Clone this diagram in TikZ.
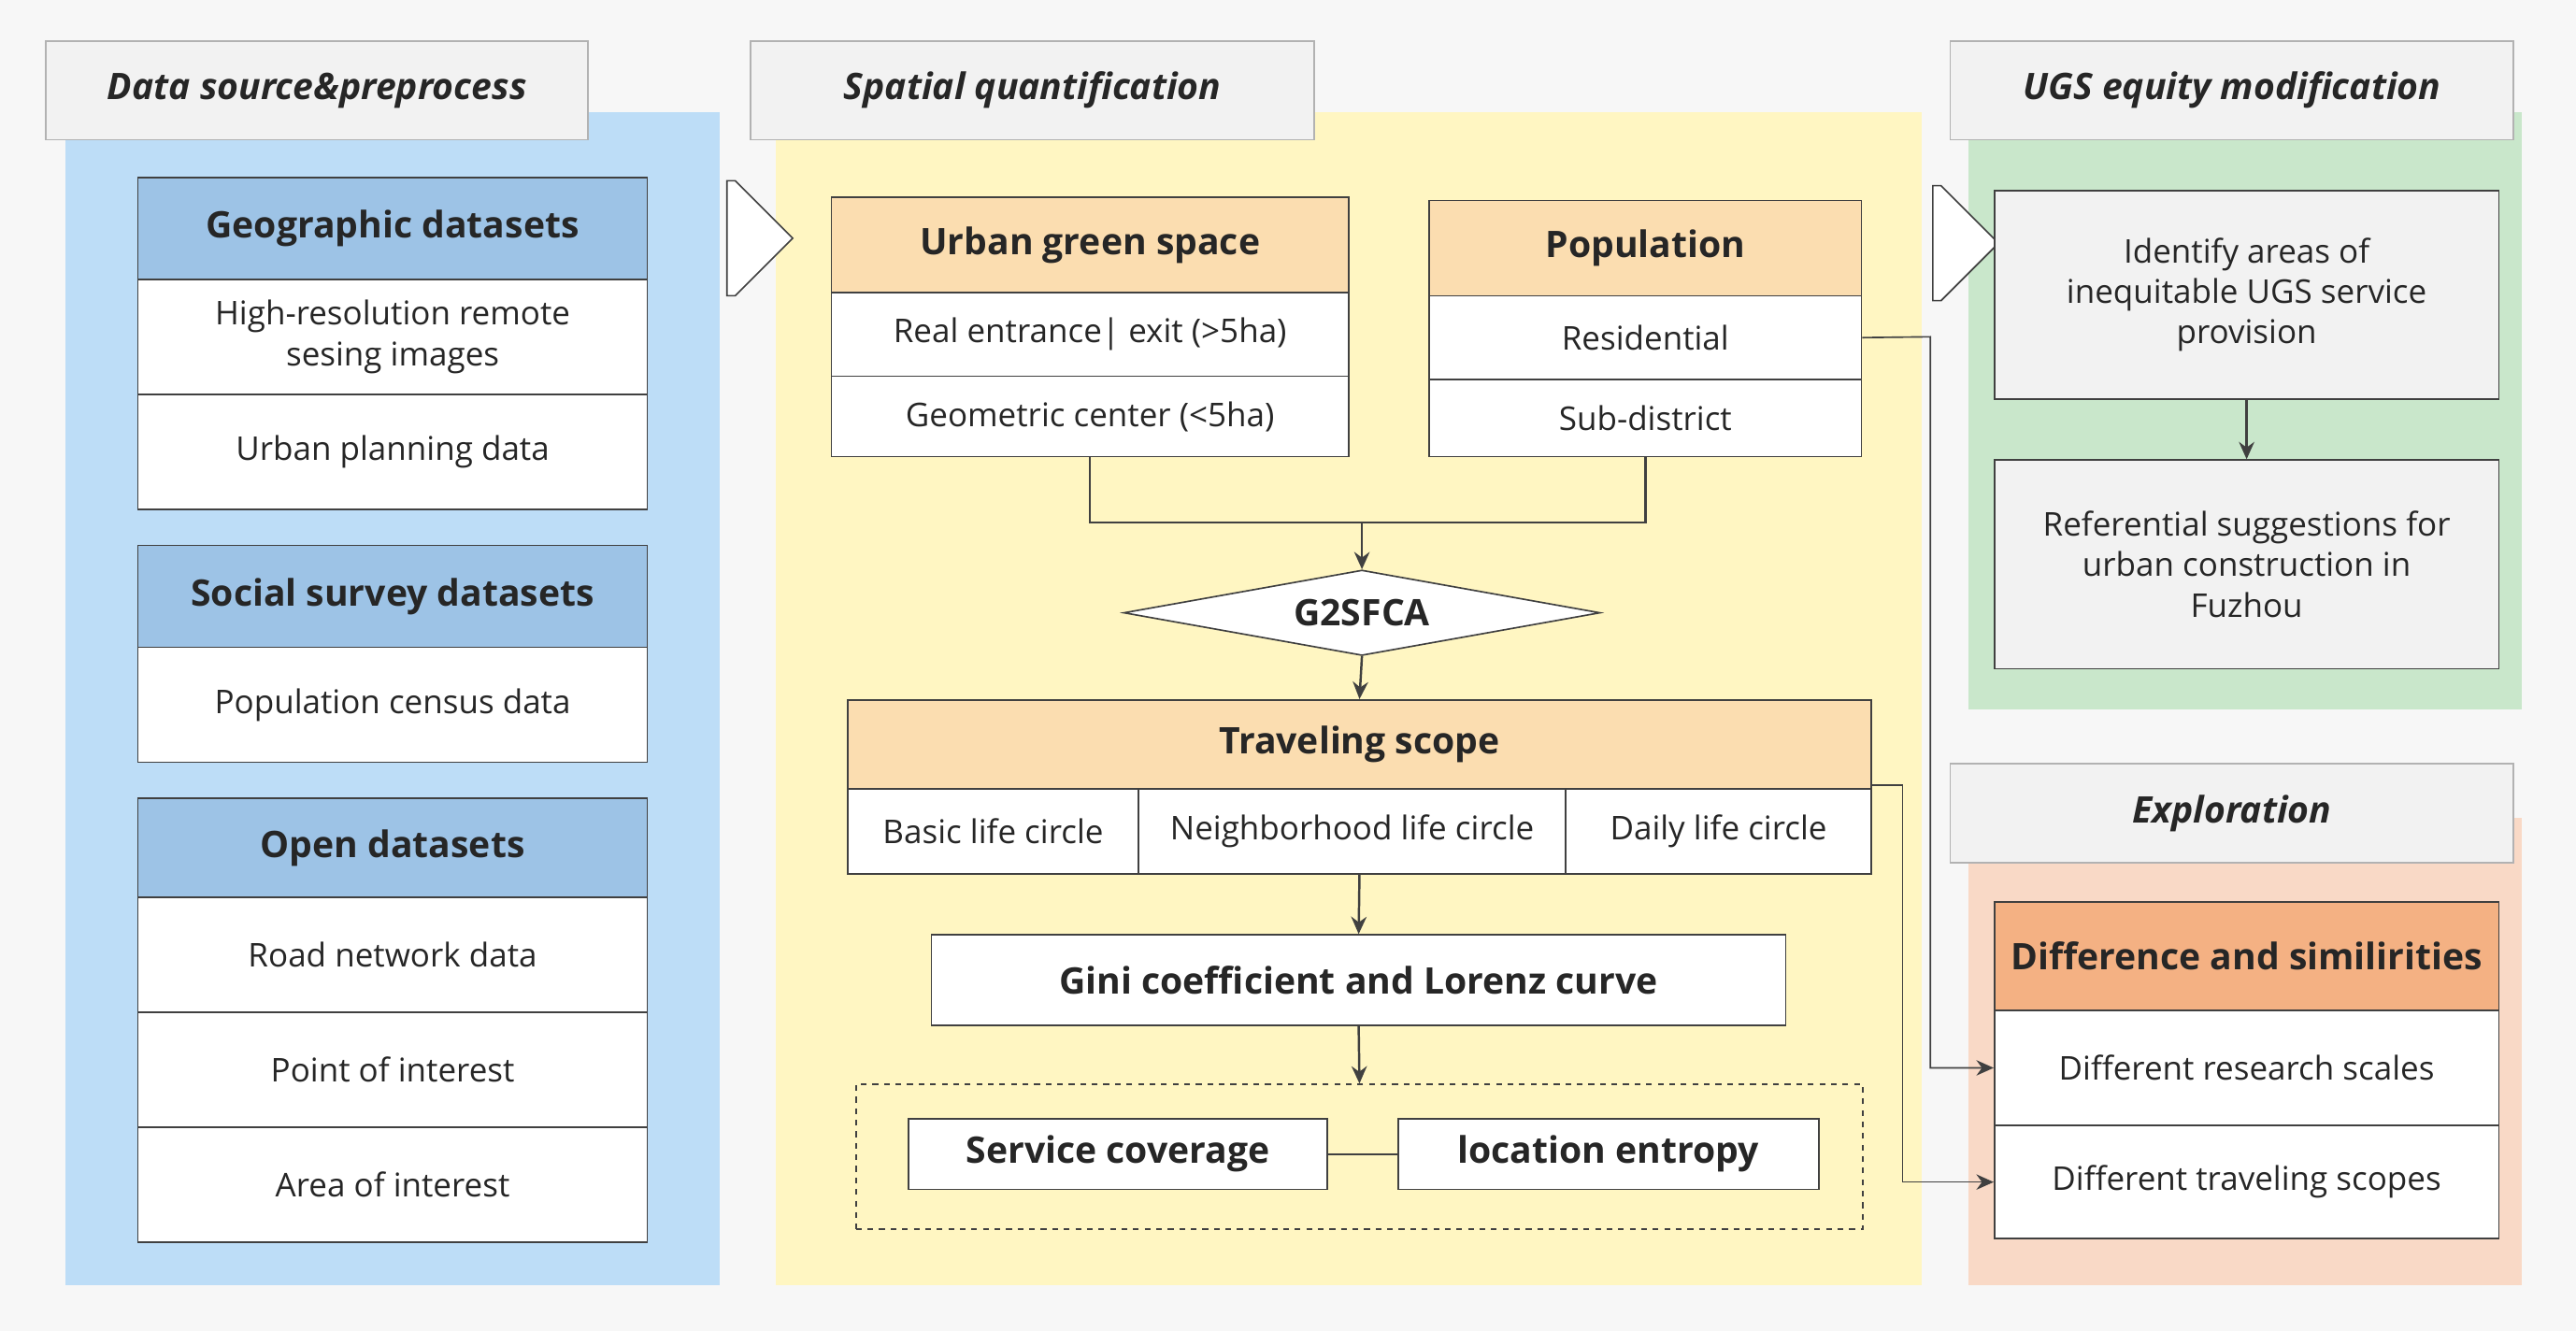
\documentclass[tikz,border=0pt]{standalone}
\usepackage{fontspec}
\setmainfont{Open Sans}
\usetikzlibrary{fit,shapes.geometric,shapes.arrows,arrows.meta}
\definecolor{bluep}{HTML}{BDDDF7}
\definecolor{blueh}{HTML}{9DC3E6}
\definecolor{yellp}{HTML}{FFF6C2}
\definecolor{orh}{HTML}{FBDDB0}
\definecolor{greenp}{HTML}{C9E7CB}
\definecolor{orp}{HTML}{F9D9C6}
\definecolor{orh2}{HTML}{F4B183}
\definecolor{hdr}{HTML}{F2F2F2}
\definecolor{ln}{HTML}{404040}
\begin{document}
\begin{tikzpicture}[x=0.03cm,y=-0.03cm,
  every node/.style={inner sep=0pt, align=center, font=\fontsize{17}{21}\selectfont, text=black!85},
  box/.style={draw=ln, line width=0.8pt, fill=white},
  hb/.style={box, font=\fontsize{19}{23}\selectfont\bfseries},
  panel/.style={draw=none},
  phdr/.style={draw=gray!60, line width=0.8pt, fill=hdr, font=\fontsize{19}{23}\selectfont\bfseries\itshape},
  con/.style={draw=ln, line width=1.2pt},
  arr/.style={con, -{Stealth[length=9pt,width=8pt]}},
  harrow/.style={single arrow, draw=ln, line width=0.8pt, fill=white, minimum height=40*0.03cm, minimum width=70*0.03cm, single arrow head extend=0pt, single arrow tip angle=90, shape border rotate=0}
]
\useasboundingbox (0,0) rectangle (1568,810);
\fill[gray!6] (0,0) rectangle (1568,810);
% panels
\node[panel, fill=bluep, fit={(40,68)(438,782)}] (pb) {};
\node[panel, fill=yellp, fit={(472,68)(1170,782)}] (py) {};
\node[panel, fill=greenp, fit={(1198,68)(1535,432)}] (pg) {};
\node[panel, fill=orp, fit={(1198,498)(1535,782)}] (po) {};
\node[phdr, fit={(28,25)(358,85)}] (h1) {};
\node at (h1.center) {\fontsize{19}{23}\selectfont\bfseries\itshape Data source\&preprocess};
\node[phdr, fit={(457,25)(800,85)}] (h2) {};
\node at (h2.center) {\fontsize{19}{23}\selectfont\bfseries\itshape Spatial quantification};
\node[phdr, fit={(1187,25)(1530,85)}] (h3) {};
\node at (h3.center) {\fontsize{19}{23}\selectfont\bfseries\itshape UGS equity modification};
\node[phdr, fit={(1187,465)(1530,525)}] (h4) {};
\node at (h4.center) {\fontsize{19}{23}\selectfont\bfseries\itshape Exploration};
% data source
\node[hb, fill=blueh, fit={(84,108)(394,170)}] (geo) {};
\node at (geo.center) {\fontsize{19}{23}\selectfont\bfseries Geographic datasets};
\node[box, fit={(84,170)(394,240)}] (g1) {};
\node at (g1.center) {High-resolution remote\\sesing images};
\node[box, fit={(84,240)(394,310)}] (g2) {};
\node at (g2.center) {Urban planning data};
\node[hb, fill=blueh, fit={(84,332)(394,394)}] (soc) {};
\node at (soc.center) {\fontsize{19}{23}\selectfont\bfseries Social survey datasets};
\node[box, fit={(84,394)(394,464)}] (s1) {};
\node at (s1.center) {Population census data};
\node[hb, fill=blueh, fit={(84,486)(394,546)}] (opn) {};
\node at (opn.center) {\fontsize{19}{23}\selectfont\bfseries Open datasets};
\node[box, fit={(84,546)(394,616)}] (o1) {};
\node at (o1.center) {Road network data};
\node[box, fit={(84,616)(394,686)}] (o2) {};
\node at (o2.center) {Point of interest};
\node[box, fit={(84,686)(394,756)}] (o3) {};
\node at (o3.center) {Area of interest};
\node[harrow] (ha1) at (445,145) {};
\node[harrow] (ha2) at (1179,148) {};
% spatial
\node[box, fill=orh, fit={(506,120)(821,178)}] (ugs) {};
\node at (ugs.center) {\fontsize{19}{23}\selectfont\bfseries Urban green space};
\node[box, fit={(506,178)(821,229)}] (u1) {};
\node at (u1.center) {Real entrance| exit (>5ha)};
\node[box, fit={(506,229)(821,278)}] (u2) {};
\node at (u2.center) {Geometric center (<5ha)};
\node[box, fill=orh, fit={(870,122)(1133,180)}] (pop) {};
\node at (pop.center) {\fontsize{19}{23}\selectfont\bfseries Population};
\node[box, fit={(870,180)(1133,231)}] (p1) {};
\node at (p1.center) {Residential};
\node[box, fit={(870,231)(1133,278)}] (p2) {};
\node at (p2.center) {Sub-district};
\coordinate (j) at (829,318);
\node[diamond, aspect=5.6, draw=ln, line width=0.8pt, fill=white, minimum width=290*0.03cm, minimum height=52*0.03cm, font=\fontsize{19}{23}\selectfont\bfseries] (g2s) at (829,373) {G2SFCA};
\draw[con] (u2.south) |- (j) -| (p2.south);
\draw[arr] (j) -- (g2s.north);
\node[box, fill=orh, fit={(516,426)(1139,480)}] (ts) {};
\node at (ts.center) {\fontsize{19}{23}\selectfont\bfseries Traveling scope};
\draw[arr] (g2s.south) -- (ts.north);
\node[box, fit={(516,480)(693,532)}] (t1) {};
\node at (t1.center) {Basic life circle};
\node[box, fit={(693,480)(953,532)}] (t2) {};
\node at (t2.center) {Neighborhood life circle};
\node[box, fit={(953,480)(1139,532)}] (t3) {};
\node at (t3.center) {Daily life circle};
\node[box, fit={(567,569)(1087,624)}] (gini) {};
\node at (gini.center) {\fontsize{19}{23}\selectfont\bfseries Gini coefficient and Lorenz curve};
\draw[arr] (t2.south -| ts.south) -- (gini.north);
\node[draw=ln, line width=0.8pt, dashed, fit={(521,660)(1134,748)}] (dash) {};
\draw[arr] (gini.south) -- (dash.north);
\node[box, fit={(553,681)(808,724)}] (sc) {};
\node at (sc.center) {\fontsize{19}{23}\selectfont\bfseries Service coverage};
\node[box, fit={(851,681)(1107,724)}] (le) {};
\node at (le.center) {\fontsize{19}{23}\selectfont\bfseries location entropy};
\draw[con, line width=0.8pt] (sc.east) -- (le.west);
% UGS equity
\node[box, fill=hdr, fit={(1214,116)(1521,243)}] (id) {};
\node at (id.center) {Identify areas of\\inequitable UGS service\\provision};
\node[box, fill=hdr, fit={(1214,280)(1521,407)}] (rs) {};
\node at (rs.center) {Referential suggestions for\\urban construction in\\Fuzhou};
\draw[arr] (id.south) -- (rs.north);
% exploration
\node[box, fill=orh2, fit={(1214,549)(1521,615)}] (ds) {};
\node at (ds.center) {\fontsize{19}{23}\selectfont\bfseries Difference and similirities};
\node[box, fill=white, fit={(1214,615)(1521,685)}] (e1) {};
\node at (e1.center) {Different research scales};
\node[box, fill=white, fit={(1214,685)(1521,754)}] (e2) {};
\node at (e2.center) {Different traveling scopes};
\coordinate (c1) at (1175,205);
\coordinate (c2) at (1158,478);
\draw[arr, line width=0.8pt] (p1.east) -- (c1) |- (e1.west);
\draw[arr, line width=0.8pt] (ts.east |- c2) -- (c2) |- (e2.west);
\end{tikzpicture}
\end{document}
